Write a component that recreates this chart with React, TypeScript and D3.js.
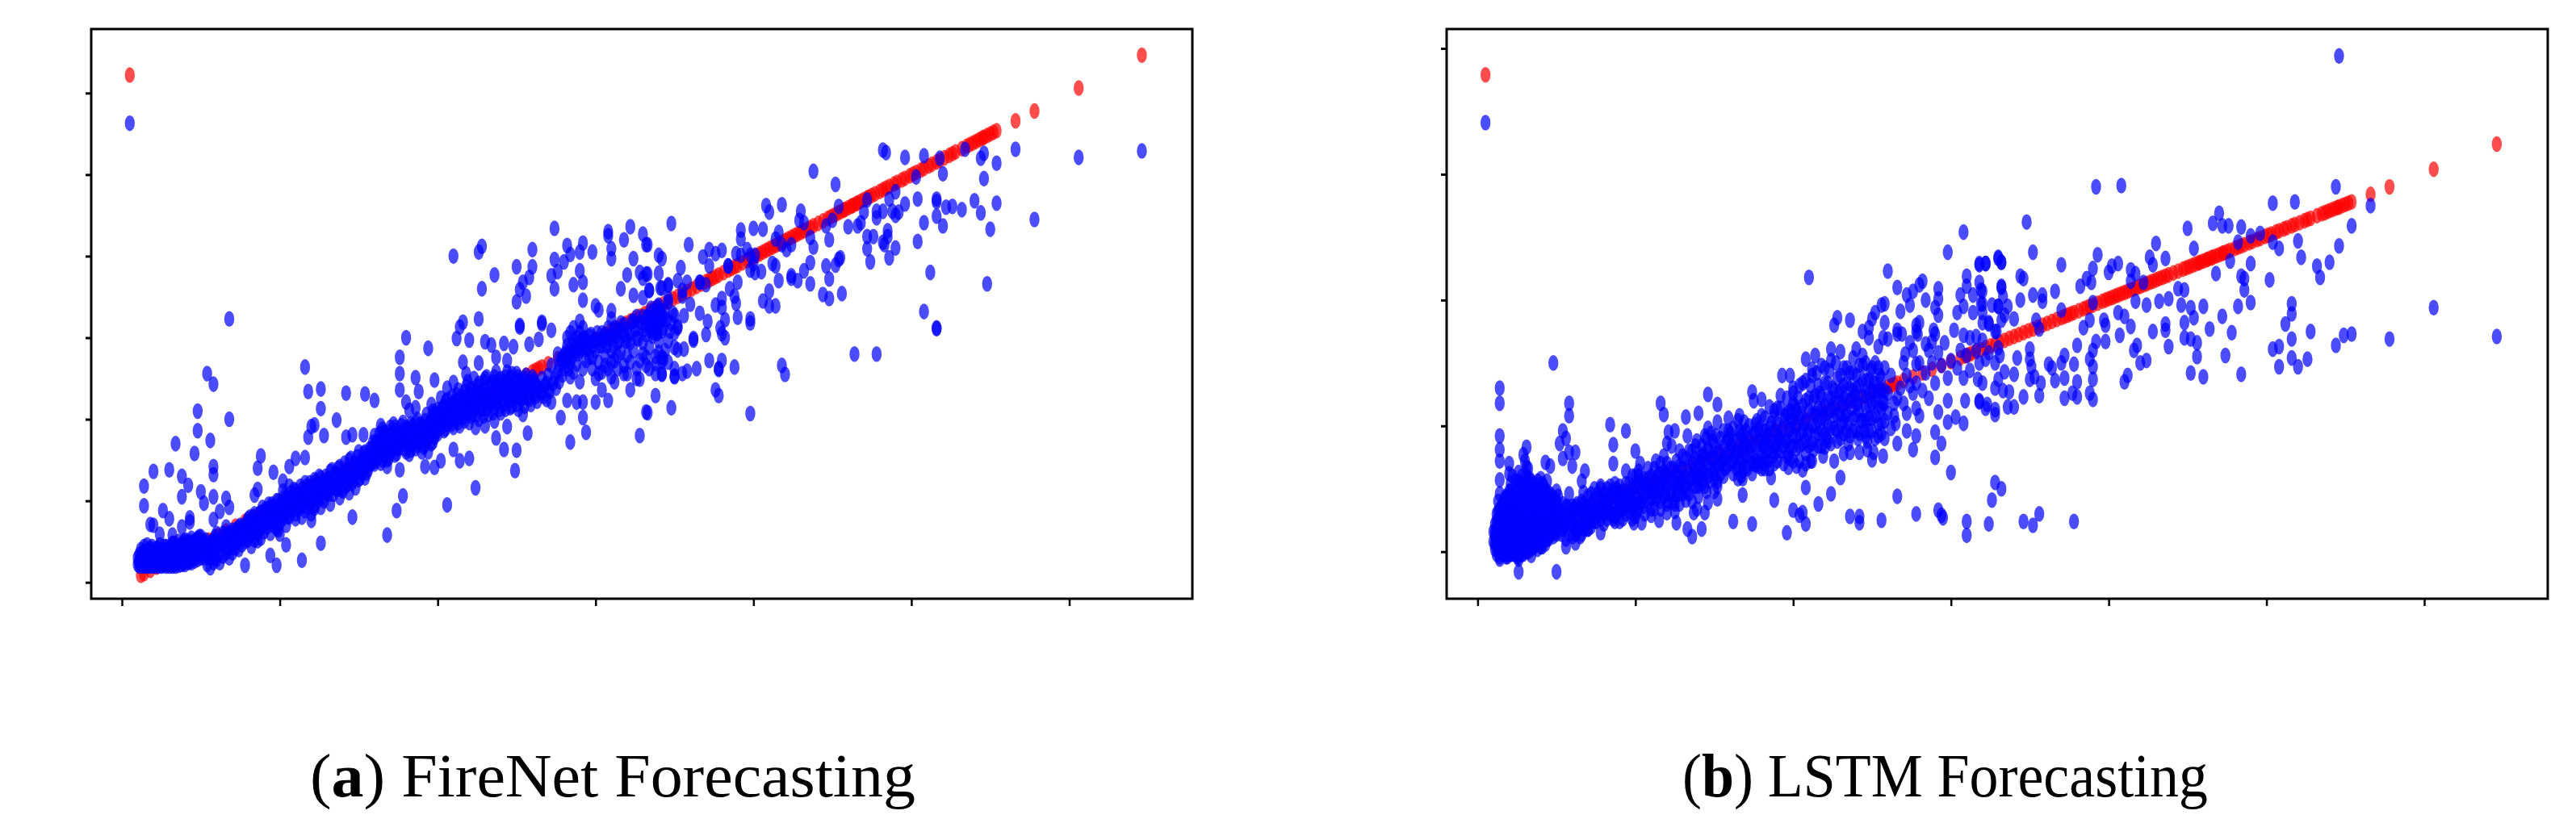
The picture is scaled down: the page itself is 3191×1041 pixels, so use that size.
import React, { useRef, useEffect } from 'react';
import * as d3 from 'd3';

type Pt = number[];

// actual values, shared by both panels (the red points sit on the ideal line)
const actualValues = [12,14,18,22,27,33,38,44,50,55,61,66,72,78,84,90,95,101,107,112,118,124,130,136,142,148,154,160,166,172,178,184,190,196,202,208,214,220,226,232,238,244,250,256,260,262,264,266,270,276,282,288,294,300,306,309,311,313,316,319,322,325,328,331,334,337,340,343,346,349,352,355,358,361,364,367,370,372,374,376,378,381,384,386,388,390,393,396,398,400,402,404,406,408,410,412,414,416,418,420,422,424,426,428,430,432,434,436,438,441,444,447,449,451,453,455,457,458,460,462,463,465,466,468,470,472,473,475,477,480,482,484,486,489,491,494,496,499,501,503,506,508,511,513,516,518,521,524,526,528,532,535,537,539,541,543,545,546,548,550,552,554,566,578,606,646];

const firenetRedOutlier: Pt = [5, 622];
const firenetBlueOutlier: Pt = [5, 563];
const lstmRedOutlier: Pt = [5, 379];
const lstmBlueOutlier: Pt = [5, 341];

// FireNet predictions
const firenetLow: Pt[] = [[10,22],[10,30],[11,20],[11,26],[11,34],[12,22],[12,30],[12,40],[13,20],[13,27],[13,36],[14,21],[14,30],[14,44],[15,20],[15,26],[15,38],[16,22],[16,32],[16,46],[17,20],[17,28],[17,40],[18,21],[18,26],[18,36],[19,20],[19,30],[19,44],[20,22],[20,28],[20,38],[21,20],[21,32],[22,22],[22,28],[22,42],[23,20],[23,26],[23,36],[24,22],[24,32],[24,46],[25,20],[25,27],[25,40],[26,21],[26,26],[26,34],[27,22],[27,30],[27,44],[28,20],[28,26],[28,38],[29,22],[29,32],[30,20],[30,28],[30,42],[31,24],[31,36],[32,20],[32,30],[32,48],[33,22],[33,40],[34,20],[34,28],[34,34],[35,24],[35,44],[36,21],[36,32],[36,50],[37,26],[37,38],[38,22],[38,30],[38,46],[39,24],[39,40],[40,22],[40,34],[40,52],[41,28],[41,40],[42,24],[42,32],[42,48],[43,26],[43,42],[44,24],[44,36],[44,54],[45,30],[45,46],[46,26],[46,38],[47,32],[47,52],[48,28],[48,42],[49,34],[49,56],[50,30],[50,46]];
const firenetLow2: Pt[] = [[11,24],[12,26],[13,24],[13,32],[14,24],[14,36],[15,22],[15,32],[16,26],[16,38],[17,24],[17,34],[18,30],[18,42],[19,25],[19,36],[20,24],[20,33],[21,26],[21,38],[22,25],[22,34],[23,30],[23,42],[24,27],[24,38],[25,24],[25,33],[26,30],[26,40],[27,26],[27,36],[28,31],[28,44],[29,26],[29,38],[30,24],[30,34],[31,28],[31,44],[32,25],[32,38],[33,30],[33,48],[34,24],[34,40],[35,30],[35,36],[36,26],[36,42],[37,32],[37,46],[38,26],[38,36],[39,30],[39,50],[40,28],[40,44],[41,34],[41,50],[42,28],[42,40],[43,34],[43,50],[44,30],[44,44],[45,38],[46,32],[46,50],[47,38],[48,34],[48,54],[49,42],[50,38],[50,56],[51,34],[51,48],[52,30],[53,40],[53,52],[55,30],[55,44],[57,36],[57,50],[59,30],[59,44],[59,56]];
const firenetBandA: Pt[] = [[52,38],[52,50],[54,22],[54,32],[54,46],[56,18],[56,30],[56,42],[58,24],[58,38],[58,52],[60,28],[60,44],[60,60],[62,24],[62,36],[62,50],[64,32],[64,44],[64,60],[66,36],[66,52],[66,68],[68,30],[68,42],[68,58],[70,36],[70,50],[70,64],[72,42],[72,58],[74,40],[74,54],[74,68],[76,46],[76,62],[78,50],[78,70],[80,52],[80,66],[80,78],[82,44],[82,58],[82,74],[84,52],[84,68],[84,84],[86,60],[86,76],[88,54],[88,66],[88,86],[90,62],[90,78],[92,68],[92,88],[94,60],[94,74],[94,92],[96,70],[96,84],[98,66],[98,80],[98,100],[100,72],[100,88],[102,78],[102,96],[102,112],[104,70],[104,84],[104,104],[106,80],[106,96],[106,118],[108,88],[108,104],[110,84],[110,98],[110,112],[112,90],[112,106],[114,80],[114,96],[114,114],[116,88],[116,102],[116,122],[118,92],[118,110],[120,84],[120,100],[120,118],[122,94],[122,108],[122,126],[124,100],[124,118],[126,92],[126,108],[126,128],[128,100],[128,114],[130,110],[130,126],[132,96],[132,116],[132,136],[134,108],[134,124],[136,114],[136,132],[138,104],[138,122],[138,142],[140,112],[140,130],[142,118],[142,138],[144,110],[144,128],[144,150],[146,122],[146,140],[148,116],[148,134],[150,126],[150,144],[150,160],[152,134],[152,150],[154,128],[154,142],[154,160],[156,138],[156,156],[158,146],[158,164]];
const firenetBandA2: Pt[] = [[61,50],[63,48],[65,58],[67,46],[67,60],[69,52],[71,46],[71,62],[73,50],[73,66],[75,56],[75,70],[77,54],[77,68],[79,60],[79,74],[81,62],[81,80],[83,66],[83,80],[85,60],[85,74],[87,70],[87,84],[89,70],[89,92],[91,74],[91,90],[93,80],[93,96],[95,78],[95,96],[97,76],[97,92],[99,84],[99,100],[101,82],[101,98],[103,90],[103,106],[105,88],[105,102],[107,92],[107,110],[109,96],[109,114],[111,92],[111,108],[113,100],[113,118],[115,94],[115,110],[117,100],[117,118],[119,104],[119,122],[121,100],[121,116],[123,106],[123,124],[125,112],[125,130],[127,104],[127,122],[129,112],[129,130],[131,108],[131,126],[133,118],[133,138],[135,116],[135,134],[137,122],[137,140],[139,114],[139,132],[141,124],[141,146],[143,120],[143,136],[145,130],[145,152],[147,126],[147,146],[149,136],[149,154],[151,128],[151,146],[153,138],[153,158],[155,134],[155,150],[157,144],[157,164],[159,150],[159,172]];
const firenetBandB: Pt[] = [[160,148],[160,162],[160,180],[162,152],[162,170],[164,146],[164,160],[164,176],[164,192],[166,154],[166,168],[166,184],[168,150],[168,164],[168,180],[170,158],[170,172],[170,190],[172,164],[172,178],[172,194],[174,158],[174,170],[174,186],[176,166],[176,180],[178,172],[178,186],[178,196],[180,160],[180,174],[180,190],[182,168],[182,182],[184,176],[184,192],[186,164],[186,178],[186,196],[188,172],[188,186],[190,160],[190,176],[190,192],[192,168],[192,182],[192,198],[194,160],[194,176],[194,190],[196,170],[196,184],[196,202],[198,178],[198,192],[198,208],[200,182],[200,196],[200,212],[202,190],[202,206],[204,186],[204,200],[204,216],[206,194],[206,208],[206,224],[208,198],[208,214],[210,190],[210,204],[210,220],[212,200],[212,214],[212,230],[214,192],[214,208],[214,224],[216,202],[216,218],[218,210],[218,226],[218,240],[220,196],[220,214],[220,232],[222,206],[222,222],[224,190],[224,216],[224,234],[226,200],[226,226],[226,244],[228,212],[228,230],[230,192],[230,218],[230,236],[230,250],[232,206],[232,228],[234,222],[234,244],[236,198],[236,214],[236,234],[236,252],[238,226],[238,242],[240,208],[240,232],[240,250],[242,218],[242,238],[244,226],[244,246],[244,258],[246,214],[246,234],[246,252],[248,228],[248,244],[250,218],[250,238],[250,256],[252,230],[252,248],[254,206],[254,226],[254,244],[256,238],[256,254],[258,224],[258,246],[260,236],[260,252],[262,228],[262,244],[264,238],[266,232],[266,250],[268,242],[270,236],[270,254],[272,266],[274,250],[276,258]];
const firenetBandB2: Pt[] = [[161,156],[161,172],[163,160],[163,182],[165,150],[165,168],[165,188],[167,160],[167,176],[169,152],[169,168],[169,184],[171,164],[171,182],[173,156],[173,172],[173,190],[175,164],[175,178],[177,170],[177,192],[179,164],[179,180],[181,170],[181,188],[183,162],[183,178],[183,194],[185,172],[185,188],[187,168],[187,182],[187,200],[189,176],[189,194],[191,166],[191,184],[193,174],[193,190],[193,206],[195,180],[195,196],[197,172],[197,190],[197,210],[199,184],[199,202],[201,192],[201,208],[203,196],[203,214],[205,188],[205,204],[205,222],[207,198],[207,216],[209,194],[209,210],[209,228],[211,202],[211,222],[213,196],[213,216],[213,236],[215,206],[215,228],[217,198],[217,214],[217,234],[219,208],[219,222],[219,246],[221,204],[221,224],[221,238],[223,212],[223,230],[223,250],[225,206],[225,222],[225,240],[227,216],[227,234],[229,204],[229,224],[229,246],[231,212],[231,230],[231,252],[233,218],[233,238],[235,208],[235,226],[235,246],[237,220],[237,240],[237,258],[239,212],[239,230],[239,248],[241,222],[241,242],[243,212],[243,230],[243,252],[245,222],[245,240],[247,216],[247,234],[247,256],[249,226],[249,246],[251,212],[251,234],[251,252],[253,224],[253,242],[255,216],[255,232],[255,250],[257,226],[257,242],[259,218],[259,238],[261,230],[261,248],[263,222],[263,240],[265,234],[267,228],[269,224],[269,244],[271,234],[273,244],[275,238],[277,246],[277,266],[279,254],[279,274],[281,270],[281,282],[283,262],[283,280]];
const firenetBandC: Pt[] = [[276,280],[280,262],[282,290],[282,300],[284,306],[284,252],[286,296],[286,312],[288,300],[288,284],[288,268],[290,306],[290,292],[290,246],[292,298],[292,312],[294,288],[294,272],[296,302],[298,276],[298,262],[300,284],[300,250],[302,270],[304,290],[304,258],[306,278],[308,262],[308,300],[310,284],[310,252],[312,272],[314,294],[314,262],[316,282],[316,308],[318,266],[318,316],[320,296],[320,278],[322,306],[324,320],[324,284],[326,300],[326,262],[328,312],[328,272],[330,294],[330,326],[332,304],[332,276],[334,316],[334,288],[336,302],[336,332],[338,268],[338,312],[340,296],[340,340],[342,308],[342,322],[344,284],[344,332],[346,296],[346,344],[348,318],[350,306],[350,262]];
const firenetBandC2: Pt[] = [[278,274],[280,278],[282,274],[284,284],[285,276],[286,284],[287,290],[288,292],[289,280],[290,284],[291,296],[292,286],[293,300],[294,296],[295,286],[296,294],[297,304],[298,290],[299,296],[300,298],[301,306],[302,290],[303,298],[304,306],[305,296],[306,304],[307,290],[308,312],[309,298],[310,304],[311,290],[312,312],[313,302],[314,310],[315,296],[316,318],[318,304],[319,296],[320,310],[322,294],[323,320],[325,310],[326,326],[327,298],[329,318],[331,310],[333,326],[335,308],[337,320],[339,306],[341,334],[343,312],[345,322],[347,308],[349,330],[284,270],[286,258],[292,262],[296,276],[302,256],[306,266],[310,270],[314,278],[318,256],[322,270],[326,250],[330,280],[334,262],[338,256],[342,276],[346,270],[334,312],[336,320],[338,308],[340,318],[336,306],[333,326],[338,326],[392,401],[389,403],[396,408],[401,401],[414,421],[418,414],[421,408],[424,414],[384,388],[366,368],[355,358],[346,348],[339,338],[335,336],[341,331],[400,391],[398,401]];
const firenetAbove: Pt[] = [[68,323],[210,400],[226,405],[228,412],[274,434],[260,408],[250,387],[260,387],[274,396],[280,393],[284,402],[282,413],[292,416],[290,405],[298,405],[308,430],[308,425],[318,420],[322,436],[330,427],[332,414],[348,440],[340,401],[342,397],[310,409],[310,397],[324,397],[320,377],[328,380],[332,378],[330,373],[340,379],[290,382],[272,376],[276,381],[258,374],[254,368],[252,359],[256,351],[250,344],[236,377],[228,360],[274,360],[286,365],[292,368],[316,360],[324,352],[334,358],[330,349],[341,361],[346,364],[292,346],[300,339],[302,334],[310,333],[310,323],[290,320],[266,319],[252,315],[226,323],[216,319],[214,313],[272,309],[180,300],[212,299],[220,297],[54,256],[58,243],[48,210],[68,200],[48,186],[56,174],[34,170],[46,158],[58,142],[58,132],[20,136],[30,138],[38,130],[42,119],[14,118],[14,94],[38,105],[50,111],[58,105],[52,97],[66,103],[68,92],[62,87],[26,88],[30,78],[58,77],[43,79],[43,74],[18,71],[20,70],[24,59],[32,58],[38,68],[116,264],[118,234],[126,237],[142,232],[154,231],[160,223],[126,213],[136,199],[120,191],[122,193],[118,178],[128,180],[88,155],[86,140],[96,135],[106,142],[110,152],[116,153],[86,114],[84,107],[102,124],[142,178],[146,181],[153,181],[176,236],[176,256],[176,276],[194,287],[186,251],[198,248],[188,234],[210,245],[206,238],[202,226],[196,218],[186,214],[182,211],[180,221],[216,270],[226,269],[218,256],[230,295],[234,291],[242,293],[248,289],[258,292],[264,298],[252,313],[266,317],[237,276],[244,272]];
const firenetBelow: Pt[] = [[146,80],[178,106],[174,88],[168,58],[206,95],[224,116],[126,48],[114,27],[98,21],[94,33],[78,21],[104,46],[100,59],[99,64],[86,51],[110,78],[120,76],[100,81],[105,81],[122,91],[249,137],[250,162],[242,163],[220,152],[214,149],[210,163],[202,149],[198,141],[192,142],[176,138],[168,142],[160,145],[182,157],[284,172],[294,184],[292,202],[278,202],[257,183],[244,191],[237,177],[328,180],[332,209],[348,214],[338,229],[308,223],[300,221],[292,221],[288,221],[282,223],[272,221],[322,236],[304,236],[312,246],[342,255],[350,253],[328,249],[320,256],[398,318],[516,312],[370,304],[362,297],[352,312],[380,305],[382,300],[339,305],[350,288],[352,285],[356,286],[340,282],[338,277],[343,274],[342,271],[332,266],[342,256],[350,252],[355,256],[358,259],[364,262],[372,272],[380,272],[378,262],[378,261],[388,264],[418,266],[420,255],[464,280],[478,280],[376,236],[378,229],[398,207],[333,208]];
const firenetRight: Pt[] = [[482,530],[484,527],[496,521],[508,523],[518,520],[534,531],[546,526],[544,520],[554,514],[566,531],[606,521],[646,529],[520,501],[503,497],[546,495],[438,504],[452,488],[540,468],[554,465],[544,453],[550,433],[578,445],[504,470],[516,470],[516,467],[522,460],[526,461],[532,457],[516,449],[508,441],[520,437],[504,418],[512,380],[548,366],[508,332],[516,311],[408,462],[410,454],[418,463],[430,455],[429,444],[392,432],[392,421],[400,434],[406,433],[359,414],[333,414],[416,429],[432,441],[454,461],[446,437],[450,444],[436,423],[438,411],[448,420],[460,436],[468,441],[466,437],[478,447],[470,454],[478,455],[482,455],[472,469],[486,470],[490,479],[496,464],[488,455],[490,450],[492,454],[472,424],[476,424],[472,409],[474,393],[482,417],[485,431],[485,424],[483,414],[490,410],[486,398],[455,398],[454,396],[452,389],[446,388],[448,372],[436,392],[432,382],[424,376],[424,373],[428,370],[436,366],[444,353],[448,348],[456,354],[416,370],[414,388],[412,391],[410,357],[406,345],[410,339],[414,339],[398,323],[390,368],[385,360],[388,351],[389,342],[390,325],[380,348],[376,340],[380,337],[366,330],[371,320],[382,322],[379,312],[350,327],[356,327],[352,314],[339,310],[343,325],[360,341],[362,299],[405,381],[401,380],[398,383],[354,386],[368,399],[372,408],[376,403],[380,407],[372,388],[384,388],[333,378],[334,358],[342,361],[346,365],[352,370],[358,368],[355,351],[370,365],[366,368]];

// LSTM predictions
const lstmLow: Pt[] = [[10,8],[10,16],[11,2],[11,12],[11,22],[12,-2],[12,6],[12,18],[12,30],[13,0],[13,10],[13,24],[13,40],[14,-6],[14,4],[14,14],[14,34],[14,46],[15,2],[15,20],[15,28],[16,-2],[16,8],[16,16],[16,38],[17,4],[17,24],[17,32],[18,-4],[18,10],[18,18],[18,44],[19,0],[19,28],[19,36],[20,6],[20,14],[20,22],[20,48],[21,-2],[21,30],[21,40],[22,8],[22,18],[22,26],[23,0],[23,12],[23,34],[23,44],[24,4],[24,22],[24,30],[25,-4],[25,10],[25,18],[25,38],[26,2],[26,14],[26,26],[26,48],[27,6],[27,32],[27,42],[28,-2],[28,12],[28,20],[29,4],[29,28],[29,54],[30,8],[30,16],[30,36],[30,46],[31,0],[31,24],[31,60],[32,6],[32,12],[32,32],[32,50],[33,18],[33,40],[34,2],[34,26],[34,56],[35,10],[35,34],[35,44],[36,4],[36,16],[36,22],[37,30],[37,50],[38,8],[38,38],[39,14],[39,24],[39,46],[40,4],[40,18],[40,32],[41,10],[41,42],[41,54],[42,22],[42,36],[43,6],[43,14],[43,28],[43,48],[44,18],[44,40],[45,10],[45,32],[46,24],[46,46],[47,14],[47,36],[48,20],[48,28],[48,42],[49,16],[49,34],[50,22],[50,30],[50,40],[51,26],[51,36]];
const lstmLow2: Pt[] = [[11,6],[11,16],[12,10],[12,24],[13,4],[13,16],[13,32],[14,-1],[14,8],[14,20],[14,28],[15,6],[15,14],[15,36],[16,2],[16,12],[16,24],[16,32],[17,-2],[17,8],[17,18],[17,42],[18,4],[18,14],[18,26],[18,36],[19,-2],[19,8],[19,20],[19,44],[20,2],[20,18],[20,30],[20,38],[21,6],[21,14],[21,24],[21,48],[22,-2],[22,12],[22,34],[22,44],[23,6],[23,20],[23,28],[24,-2],[24,10],[24,16],[24,38],[24,50],[25,4],[25,24],[25,32],[26,-4],[26,8],[26,20],[26,36],[26,56],[27,0],[27,12],[27,24],[28,6],[28,16],[28,28],[28,38],[28,50],[29,-2],[29,10],[29,20],[29,44],[30,2],[30,12],[30,26],[31,6],[31,18],[31,34],[31,52],[32,0],[32,22],[32,42],[33,8],[33,14],[33,28],[34,10],[34,18],[34,36],[34,48],[35,4],[35,22],[36,10],[36,30],[36,40],[36,54],[37,6],[37,16],[37,24],[38,2],[38,14],[38,30],[38,46],[39,8],[39,34],[40,12],[40,24],[40,40],[41,4],[41,18],[41,30],[42,10],[42,16],[42,44],[43,22],[43,36],[44,10],[44,28],[44,48],[45,18],[45,24],[45,40],[46,14],[46,34],[47,22],[47,44],[48,12],[48,36],[49,24],[49,42],[50,14],[50,48],[51,18],[51,44],[30,72],[32,66],[33,58],[28,60],[27,54],[34,48],[24,56],[22,60],[40,50],[42,52],[38,56]];
const lstmBandA: Pt[] = [[53,14],[53,24],[54,30],[55,20],[56,10],[56,28],[57,36],[58,22],[58,14],[59,30],[60,26],[60,12],[61,34],[62,20],[62,28],[63,16],[63,38],[64,26],[65,34],[65,12],[66,22],[66,30],[67,38],[68,18],[68,28],[69,36],[70,26],[70,44],[71,32],[72,20],[72,38],[73,28],[74,42],[74,34],[75,24],[76,36],[76,46],[77,30],[78,42],[78,26],[79,36],[80,46],[80,30],[81,38],[82,50],[82,26],[83,34],[84,42],[85,30],[85,48],[86,36],[87,44],[87,28],[88,38],[89,46],[89,32],[90,52],[90,24],[91,40],[92,34],[92,48],[93,42],[94,30],[95,46],[95,36],[96,54],[97,42],[98,26],[98,50],[99,38],[100,46],[100,60],[101,32],[102,52],[102,42],[103,70],[104,48],[105,36],[105,58],[106,44],[107,54],[108,66],[108,40],[109,50],[110,60],[110,34],[111,46],[112,56],[113,72],[113,42],[114,52],[115,62],[116,48],[116,34],[117,56],[118,76],[118,44],[119,62],[120,52],[120,70],[121,40],[122,58],[123,84],[123,48],[124,66],[125,54],[125,38],[126,72],[127,60],[128,46],[128,80],[129,56],[130,66]];
const lstmBandA2: Pt[] = [[52,20],[52,32],[54,18],[54,38],[56,22],[56,36],[58,30],[60,20],[60,36],[62,14],[62,36],[64,18],[64,34],[66,14],[66,40],[68,24],[68,36],[70,18],[70,34],[72,28],[72,46],[74,24],[74,50],[76,28],[78,34],[78,50],[80,38],[80,22],[82,34],[82,42],[84,30],[84,52],[86,26],[86,46],[88,30],[88,50],[90,38],[90,46],[92,26],[92,42],[94,38],[94,54],[96,32],[96,46],[98,36],[98,60],[100,28],[100,38],[100,52],[102,34],[102,60],[104,40],[104,56],[106,30],[106,52],[108,48],[108,58],[110,42],[110,52],[112,34],[112,48],[112,66],[114,44],[114,60],[116,40],[116,56],[116,70],[118,52],[118,64],[120,38],[120,60],[122,46],[122,66],[124,40],[124,56],[126,50],[126,62],[128,38],[128,54],[128,68],[130,46],[130,58],[130,76]];
const lstmBandB: Pt[] = [[131,52],[132,74],[132,60],[133,92],[134,46],[134,68],[135,58],[136,80],[136,40],[137,64],[138,52],[138,74],[139,88],[140,60],[140,44],[141,70],[142,84],[142,54],[143,78],[144,62],[145,90],[145,48],[146,70],[147,80],[147,56],[148,66],[149,88],[150,74],[150,58],[151,92],[152,68],[153,80],[154,62],[155,72],[156,96],[156,84],[157,66],[158,78],[159,90],[159,106],[160,70],[161,84],[162,62],[162,98],[163,76],[164,88],[165,68],[165,104],[166,80],[167,92],[168,72],[168,58],[169,86],[170,96],[170,76],[171,66],[172,90],[173,80],[174,70],[175,94],[176,84],[177,104],[177,72],[178,88],[179,78],[180,96],[180,66],[181,84],[182,106],[182,74],[183,90],[184,80],[185,98],[185,66],[186,88],[187,76],[188,96],[188,112],[189,84],[190,72],[190,102]];
const lstmBandB2: Pt[] = [[132,48],[134,56],[134,80],[136,52],[136,70],[138,62],[138,84],[140,52],[140,72],[142,62],[142,76],[144,52],[144,74],[146,60],[146,82],[148,74],[148,94],[150,66],[150,84],[152,56],[152,78],[154,70],[154,90],[156,60],[156,74],[158,68],[158,88],[160,78],[160,94],[162,72],[162,88],[164,66],[164,80],[166,72],[166,96],[168,64],[168,82],[168,94],[170,68],[170,86],[172,76],[172,100],[174,62],[174,84],[176,72],[176,94],[178,68],[178,98],[180,76],[180,88],[180,108],[182,66],[182,84],[182,96],[184,72],[184,92],[186,80],[186,102],[188,70],[188,84],[190,80],[190,92],[190,114]];
const lstmBandC: Pt[] = [[191,90],[192,114],[192,80],[193,98],[194,70],[195,108],[195,88],[196,122],[196,76],[197,96],[198,84],[198,112],[199,104],[200,72],[200,92],[200,130],[201,116],[202,82],[202,100],[203,122],[204,94],[204,72],[205,110],[206,86],[206,134],[207,102],[208,120],[208,78],[209,94],[210,112],[210,84],[211,132],[212,100],[212,72],[213,122],[214,92],[214,110],[215,142],[216,84],[216,104],[217,126],[218,96],[218,114],[219,76],[220,134],[220,106],[221,90],[222,122],[222,100],[223,144],[224,112],[224,86],[225,130],[226,98],[226,118],[227,150],[228,108],[228,88],[229,126],[230,100],[230,140],[231,116],[232,94],[232,132],[233,108],[234,146],[234,120],[235,86],[235,102],[236,130],[237,114],[238,154],[238,96],[239,124],[240,108],[240,140],[241,90],[241,118],[242,132],[243,104],[244,148],[244,124],[245,96],[246,114],[246,136],[247,88],[248,126],[248,106],[249,144],[250,118],[250,96],[251,134],[252,108],[252,150],[253,124],[254,92],[254,114],[255,140],[256,102],[256,128],[257,118],[258,90],[258,146],[260,110],[260,126],[262,98],[262,140],[264,108],[266,122],[268,130],[270,118],[270,150],[272,140],[274,132],[274,166],[276,126],[276,160],[278,134],[280,150],[282,128],[284,142],[286,122],[286,160],[288,150],[290,134],[292,158],[294,148],[296,166],[298,138],[300,152],[302,176],[304,146],[306,160],[308,138],[310,156],[312,170],[312,144],[314,190],[316,160],[318,150],[320,168],[324,158],[326,196],[328,150],[330,162],[334,188]];
const lstmBandC2: Pt[] = [[192,92],[194,84],[194,104],[196,88],[196,110],[198,74],[198,98],[200,84],[200,104],[200,118],[202,92],[202,112],[204,84],[204,106],[204,132],[206,96],[206,116],[208,88],[208,104],[208,136],[210,96],[210,122],[212,86],[212,110],[212,140],[214,100],[214,124],[216,94],[216,114],[216,132],[218,84],[218,106],[218,124],[218,148],[220,94],[220,116],[220,146],[222,88],[222,110],[222,134],[224,98],[224,122],[224,152],[226,108],[226,128],[228,96],[228,118],[228,138],[230,90],[230,110],[230,128],[232,104],[232,122],[232,146],[234,96],[234,110],[234,134],[236,92],[236,120],[236,142],[238,106],[238,128],[238,142],[240,96],[240,118],[240,130],[242,94],[242,112],[242,148],[244,104],[244,136],[246,92],[246,104],[246,124],[246,150],[248,96],[248,116],[248,136],[250,106],[250,128],[250,146],[252,90],[252,120],[252,134],[254,102],[254,128],[254,146],[256,114],[256,94],[256,138],[258,104],[258,128],[258,118]];
const lstmAbove: Pt[] = [[210,218],[260,223],[308,254],[298,238],[266,210],[282,215],[280,212],[272,204],[276,207],[284,200],[292,209],[292,201],[236,184],[228,186],[226,180],[258,197],[256,196],[252,190],[250,185],[268,191],[274,196],[258,182],[278,180],[280,182],[292,188],[290,194],[304,190],[308,195],[306,204],[310,219],[310,211],[314,204],[318,228],[322,229],[318,214],[320,207],[330,233],[332,230],[332,210],[320,197],[320,190],[320,182],[324,182],[290,173],[257,170],[244,175],[248,178],[266,173],[278,175],[308,172],[316,171],[329,175],[330,195],[48,150],[14,130],[14,118],[14,92],[58,118],[58,108],[54,96],[56,90],[52,86],[54,74],[58,79],[62,79],[60,68],[84,101],[94,96],[86,85],[100,80],[116,118],[118,109],[132,107],[140,110],[146,125],[152,117],[152,103],[146,98],[144,92],[125,96],[121,95],[120,86],[159,96],[174,127],[175,120],[180,121],[169,103],[166,108],[176,101],[193,140],[198,140],[192,124],[200,126],[185,115],[188,107],[199,111],[208,153],[214,156],[212,145],[224,161],[230,159],[240,161],[244,156],[248,170],[254,163],[260,169],[266,176],[269,173],[279,173],[271,157],[289,176],[284,165],[288,167],[278,149]];
const lstmBelow: Pt[] = [[264,118],[265,102],[272,96],[278,92],[266,86],[276,81],[290,95],[294,86],[290,75],[292,111],[298,120],[298,103],[303,107],[308,102],[309,120],[318,120],[323,117],[328,113],[278,114],[272,110],[280,108],[300,63],[310,24],[310,13],[294,29],[292,33],[295,27],[278,30],[266,44],[256,25],[242,28],[236,28],[242,23],[230,59],[226,72],[232,78],[236,79],[242,79],[247,81],[251,79],[257,76],[250,73],[224,46],[216,38],[208,51],[206,31],[204,29],[208,22],[200,33],[196,15],[188,41],[168,45],[186,59],[174,22],[162,24],[142,18],[136,12],[133,18],[152,42],[150,48],[146,39],[144,31],[139,34],[137,31],[132,41],[126,23],[125,32],[120,31],[115,25],[110,29],[104,23],[99,23],[78,15],[70,18],[62,7],[56,4],[50,-16],[26,-16],[26,-6],[14,-4],[19,-4],[34,-3],[87,24],[91,34],[103,40],[87,54],[86,70],[94,64],[102,64],[68,64],[66,56],[67,47],[78,52],[58,46],[43,71],[46,68],[31,83],[29,77],[20,70],[14,72],[14,81],[14,57],[20,62],[31,67],[26,63],[40,58],[44,56],[21,54],[31,56],[208,70],[202,68],[197,67],[197,77],[206,65],[211,72],[213,81],[220,83],[167,60],[165,58],[176,69],[182,70],[141,56],[150,62],[152,52],[143,65],[139,61],[119,47],[126,45]];
const lstmRightUp: Pt[] = [[546,394],[392,290],[408,291],[348,262],[352,238],[370,228],[330,234],[332,230],[322,229],[318,229],[393,236],[406,229],[402,227],[400,222],[390,225],[386,217],[389,214],[382,211],[414,224],[417,221],[414,215],[422,214],[426,234],[428,228],[430,245],[436,233],[450,257],[454,241],[466,261],[472,259],[476,259],[470,269],[484,258],[490,251],[496,253],[504,277],[518,278],[544,290],[566,275],[554,259],[546,243],[520,247],[508,241],[504,246],[522,234],[532,227],[540,230],[534,218],[502,216],[490,229],[482,246],[477,231],[468,221],[484,219],[486,217],[486,208],[490,198],[482,195],[516,197],[516,189],[512,181],[528,175],[549,172],[554,173],[578,169],[606,194],[646,171],[472,187],[464,177],[478,174],[460,195],[454,186],[452,194],[448,182],[446,196],[448,208],[444,209],[438,201],[432,199],[424,196],[417,199],[436,181],[436,176],[428,175],[414,179],[410,187],[406,190],[397,184],[398,180],[384,178],[388,184],[390,198],[370,192],[352,204],[358,204],[366,207],[358,199],[344,200],[332,211],[333,203],[330,195],[336,195],[340,185],[332,184],[324,181],[344,219],[346,217],[319,208],[319,197],[354,184],[356,177],[328,175]];
const lstmRightLow: Pt[] = [[544,164],[516,169],[508,163],[504,161],[516,154],[526,153],[520,147],[508,147],[484,141],[460,139],[452,142],[474,156],[456,166],[452,169],[448,170],[456,155],[438,163],[424,152],[420,150],[418,164],[416,160],[412,140],[410,135],[407,172],[398,167],[392,167],[380,164],[390,160],[388,153],[390,147],[390,137],[388,126],[390,121],[380,135],[380,123],[377,126],[372,122],[372,138],[366,136],[364,146],[362,149],[370,150],[372,156],[378,149],[350,161],[350,153],[351,147],[350,137],[353,139],[357,134],[356,124],[346,123],[340,115],[336,115],[328,109],[322,114],[318,119],[337,127],[333,128],[328,130],[330,137],[320,134],[317,137],[334,143],[340,141],[342,154],[322,153],[331,156],[328,55],[332,50],[326,41],[324,22],[346,24],[352,21],[356,30],[378,24]];

const firenetTicksX = [0, 100, 200, 300, 400, 500, 600];
const firenetTicksY = [0, 100, 200, 300, 400, 500, 600];
const lstmTicksX = [0, 100, 200, 300, 400, 500, 600];
const lstmTicksY = [0, 100, 200, 300, 400];

const Panel = ({ frame, xRange, yRange, ticksX, ticksY, red, blue, redOutlier, blueOutlier, line, svgLabel, title, captionX, captionLength }: any) => {
  const gRef = useRef<SVGGElement>(null);

  useEffect(() => {
    const g = d3.select(gRef.current);
    g.selectAll('*').remove();

    const x = d3.scaleLinear().domain([ticksX[0], ticksX[ticksX.length - 1]]).range(xRange);
    const y = d3.scaleLinear().domain([ticksY[0], ticksY[ticksY.length - 1]]).range(yRange);

    // red first, blue goes on top of it
    const redPts = red.map((v: number) => [v, line[0] * v + line[1]]).concat([redOutlier]);
    const bluePts = blue.concat([blueOutlier]);

    g.selectAll('.red')
      .data(redPts)
      .enter()
      .append('ellipse')
      .attr('class', 'red')
      .attr('cx', (d: any) => x(d[0]))
      .attr('cy', (d: any) => y(d[1]))
      .attr('rx', 6.2)
      .attr('ry', 9.8)
      .attr('fill', '#ff0000')
      .attr('fill-opacity', 0.7);

    g.selectAll('.blue')
      .data(bluePts)
      .enter()
      .append('ellipse')
      .attr('class', 'blue')
      .attr('cx', (d: any) => x(d[0]))
      .attr('cy', (d: any) => y(d[1]))
      .attr('rx', 6.2)
      .attr('ry', 9.8)
      .attr('fill', '#0000ff')
      .attr('fill-opacity', 0.7);

    // X axis
    const xAxis = g.append('g')
      .attr('transform', `translate(0,${frame.bottom})`)
      .call(d3.axisBottom(x).tickValues(ticksX).tickSize(9).tickSizeOuter(0).tickFormat(() => ''));
    xAxis.select('.domain').remove();
    xAxis.selectAll('line').attr('stroke', '#000').attr('stroke-width', 2.5);

    // Y axis
    const yAxis = g.append('g')
      .attr('transform', `translate(${frame.left},0)`)
      .call(d3.axisLeft(y).tickValues(ticksY).tickSize(7).tickSizeOuter(0).tickFormat(() => ''));
    yAxis.select('.domain').remove();
    yAxis.selectAll('line').attr('stroke', '#000').attr('stroke-width', 3);

    // Spines
    g.append('rect')
      .attr('x', frame.left)
      .attr('y', frame.top)
      .attr('width', frame.right - frame.left)
      .attr('height', frame.bottom - frame.top)
      .attr('fill', 'none')
      .attr('stroke', '#000')
      .attr('stroke-width', 3);
  }, []);

  return (
    <g>
      <g ref={gRef}></g>
      <text x={captionX} y={987} fontFamily="'Liberation Serif', serif" fontSize={77} fill="#000" textLength={captionLength} lengthAdjust="spacingAndGlyphs">
        (<tspan fontWeight="bold">{svgLabel}</tspan>) {title}
      </text>
    </g>
  );
};

const App = () => {
  return (
    <svg width={3191} height={1041} style={{ position: 'absolute', left: 0, top: 0, display: 'block', background: '#fff' }}>
      <Panel
        frame={{ left: 113, right: 1477, top: 36, bottom: 742 }}
        xRange={[151, 1324.5]}
        yRange={[721.7, 115.3]}
        ticksX={firenetTicksX}
        ticksY={firenetTicksY}
        red={actualValues}
        line={[1.006, -3.5]}
        blue={[...firenetLow, ...firenetLow2, ...firenetBandA, ...firenetBandA2, ...firenetBandB, ...firenetBandB2, ...firenetBandC, ...firenetBandC2, ...firenetAbove, ...firenetBelow, ...firenetRight]}
        redOutlier={firenetRedOutlier}
        blueOutlier={firenetBlueOutlier}
        svgLabel="a"
        title="FireNet Forecasting"
        captionX={384}
        captionLength={750}
      />
      <Panel
        frame={{ left: 1792, right: 3156, top: 36, bottom: 742 }}
        xRange={[1830.4, 3003]}
        yRange={[683.7, 60]}
        ticksX={lstmTicksX}
        ticksY={lstmTicksY}
        red={actualValues}
        line={[0.5, 1]}
        blue={[...lstmLow, ...lstmLow2, ...lstmBandA, ...lstmBandA2, ...lstmBandB, ...lstmBandB2, ...lstmBandC, ...lstmBandC2, ...lstmAbove, ...lstmBelow, ...lstmRightUp, ...lstmRightLow]}
        redOutlier={lstmRedOutlier}
        blueOutlier={lstmBlueOutlier}
        svgLabel="b"
        title="LSTM Forecasting"
        captionX={2084}
        captionLength={651}
      />
    </svg>
  );
};

export default App;
